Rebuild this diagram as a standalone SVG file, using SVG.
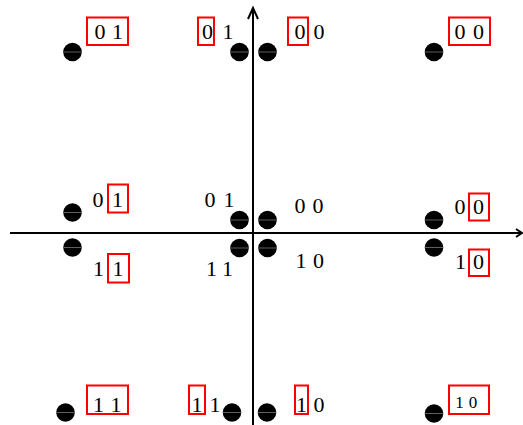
<svg xmlns="http://www.w3.org/2000/svg" width="523" height="425" viewBox="0 0 523 425">
  <defs>
    <g id="dot">
      <circle cx="0" cy="0" r="9.3" fill="#000"/>
      <line x1="-9" y1="0" x2="9" y2="0" stroke="#777" stroke-width="0.8"/>
    </g>
  </defs>
  <style>
    text { font-family: "Liberation Serif", "Times New Roman", serif; font-size: 22px; fill: #000; text-anchor: middle; }
    text.s { font-size: 17px; }
    .box { fill: none; stroke: #ff0000; stroke-width: 2; }
    .ax { stroke: #000; stroke-width: 2; fill: none; }
  </style>
  <rect width="523" height="425" fill="#fff"/>

  <g id="axes">
    <line class="ax" x1="10" y1="233" x2="521" y2="233"/>
    <polyline class="ax" points="516,229 522,233 516,237" stroke-width="1.5"/>
    <line class="ax" x1="253" y1="9" x2="253" y2="425"/>
    <polyline class="ax" points="248,19 253,8 258,19" stroke-width="1.5"/>
  </g>

  <!-- top row -->
  <g id="n-top-1">
    <use href="#dot" x="72.5" y="52"/>
    <rect class="box" x="87" y="17.5" width="41" height="27.5"/>
    <text x="100" y="38.5">0</text>
    <text x="117.5" y="38.5">1</text>
  </g>
  <g id="n-top-2">
    <use href="#dot" x="239.5" y="52"/>
    <rect class="box" x="198" y="17.5" width="16" height="27.5"/>
    <text x="207.5" y="38.5">0</text>
    <text x="228" y="38.5">1</text>
  </g>
  <g id="n-top-3">
    <use href="#dot" x="267.5" y="52"/>
    <rect class="box" x="288" y="17.5" width="20" height="27.5"/>
    <text x="300" y="38.5">0</text>
    <text x="319" y="38.5">0</text>
  </g>
  <g id="n-top-4">
    <use href="#dot" x="434" y="52"/>
    <rect class="box" x="449" y="17.5" width="41" height="27.5"/>
    <text x="460" y="38.5">0</text>
    <text x="478.5" y="38.5">0</text>
  </g>

  <!-- upper middle row -->
  <g id="n-mu-1">
    <use href="#dot" x="72.5" y="212.5"/>
    <text x="98" y="206.5">0</text>
    <rect class="box" x="108" y="184.5" width="20" height="28"/>
    <text x="117.5" y="206.5">1</text>
  </g>
  <g id="n-mu-2">
    <use href="#dot" x="239.5" y="220"/>
    <text x="210" y="206.5">0</text>
    <text x="229" y="206.5">1</text>
  </g>
  <g id="n-mu-3">
    <use href="#dot" x="267.5" y="220"/>
    <text x="300" y="212.5">0</text>
    <text x="318" y="212.5">0</text>
  </g>
  <g id="n-mu-4">
    <use href="#dot" x="434" y="220"/>
    <text x="460" y="213.5">0</text>
    <rect class="box" x="469" y="193.5" width="20" height="27"/>
    <text x="478.5" y="213.5">0</text>
  </g>

  <!-- lower middle row -->
  <g id="n-ml-1">
    <use href="#dot" x="72.5" y="247.5"/>
    <text x="98.5" y="275.5">1</text>
    <rect class="box" x="108" y="254" width="21" height="28.5"/>
    <text x="118" y="275.5">1</text>
  </g>
  <g id="n-ml-2">
    <use href="#dot" x="239.5" y="248"/>
    <text x="211.5" y="275.5">1</text>
    <text x="227.5" y="275.5">1</text>
  </g>
  <g id="n-ml-3">
    <use href="#dot" x="267.5" y="248"/>
    <text x="301" y="267.5">1</text>
    <text x="318.5" y="267.5">0</text>
  </g>
  <g id="n-ml-4">
    <use href="#dot" x="434" y="247.5"/>
    <text x="460.5" y="268.5">1</text>
    <rect class="box" x="469" y="249.5" width="20" height="26.5"/>
    <text x="478.5" y="268.5">0</text>
  </g>

  <!-- bottom row -->
  <g id="n-bot-1">
    <use href="#dot" x="65.5" y="412.5"/>
    <rect class="box" x="87" y="385.5" width="41" height="28.5"/>
    <text x="98.5" y="411.5">1</text>
    <text x="116" y="411.5">1</text>
  </g>
  <g id="n-bot-2">
    <use href="#dot" x="232" y="412.5"/>
    <rect class="box" x="189" y="385.5" width="16" height="28.5"/>
    <text x="197" y="411.5">1</text>
    <text x="215" y="411.5">1</text>
  </g>
  <g id="n-bot-3">
    <use href="#dot" x="267" y="412.5"/>
    <rect class="box" x="295" y="385.5" width="13" height="28.5"/>
    <text x="301.5" y="411.5">1</text>
    <text x="319" y="411.5">0</text>
  </g>
  <g id="n-bot-4">
    <use href="#dot" x="434" y="413.5"/>
    <rect class="box" x="449" y="385.5" width="40" height="28.5"/>
    <text class="s" x="459.5" y="407.5">1</text>
    <text class="s" x="473" y="407.5">0</text>
  </g>
</svg>
